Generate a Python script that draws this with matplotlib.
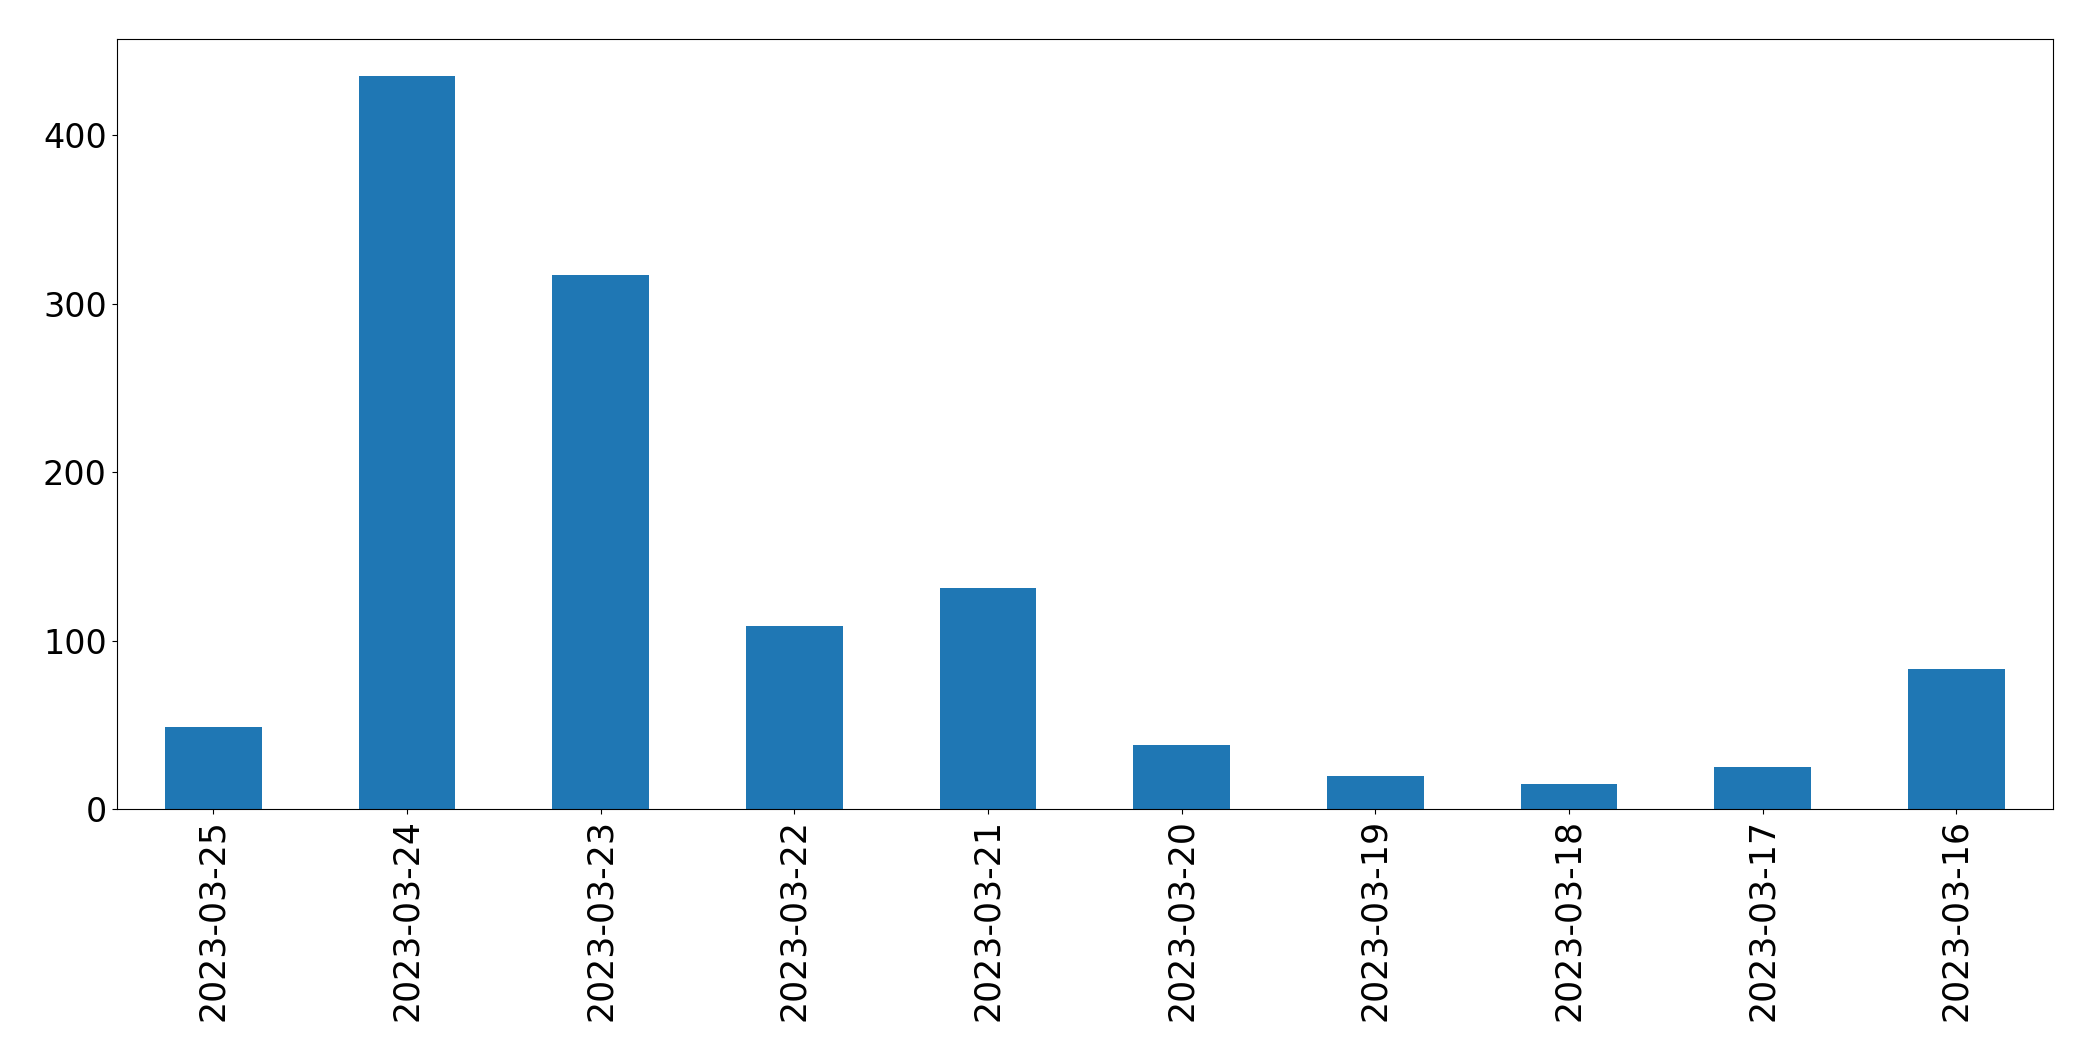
import matplotlib
matplotlib.use('Agg')
import numpy as np
import matplotlib.pyplot as plt

dates = ['2023-03-25', '2023-03-24', '2023-03-23', '2023-03-22', '2023-03-21',
         '2023-03-20', '2023-03-19', '2023-03-18', '2023-03-17', '2023-03-16']
counts = [49, 435, 317, 109, 131, 38, 20, 15, 25, 83]

plt.rcParams['font.size'] = 24

fig, ax = plt.subplots(figsize=(20.93, 10.61), dpi=100)
index = np.arange(len(dates))
ax.bar(index, counts, 0.5, color='#1f77b4')
ax.set_xticks(index)
ax.set_xticklabels(dates, rotation=90, fontsize=25)
ax.set_xlim(-0.5, len(dates) - 0.5)

fig.subplots_adjust(left=0.0557, right=0.981, top=0.963, bottom=0.2372)
fig.savefig('out.png', dpi=100)
